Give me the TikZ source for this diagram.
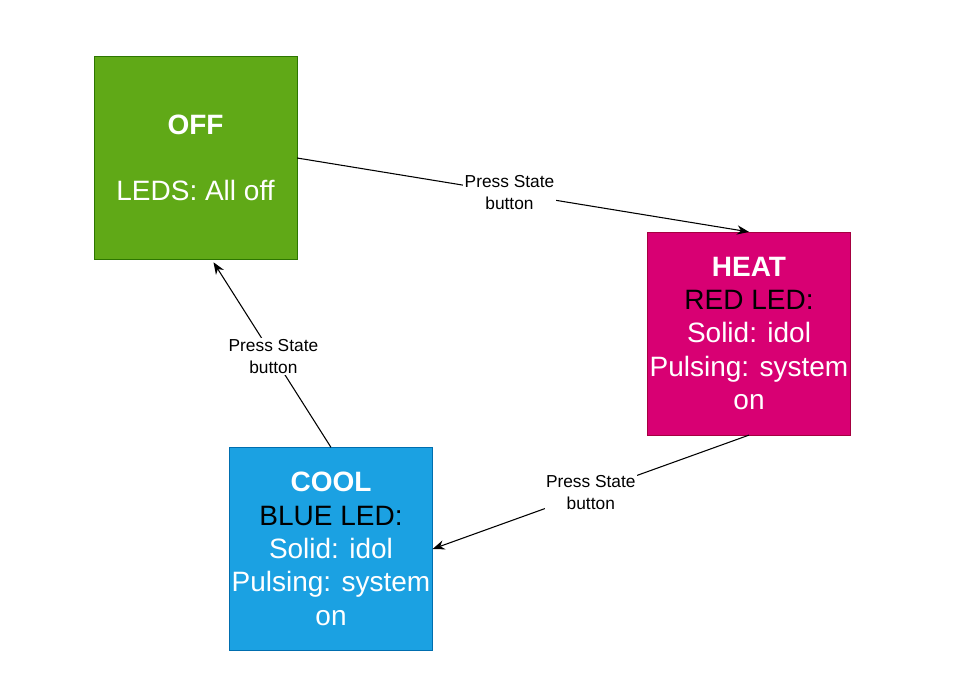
\documentclass[tikz,border=0pt]{standalone}
\usepackage{fontspec}
\setmainfont{Liberation Sans}
\usepackage{xcolor}
\usetikzlibrary{positioning, arrows.meta, calc}
\definecolor{offfill}{HTML}{60A917}
\definecolor{offline}{HTML}{2D7600}
\definecolor{heatfill}{HTML}{D80073}
\definecolor{heatline}{HTML}{A50040}
\definecolor{coolfill}{HTML}{1BA1E2}
\definecolor{coolline}{HTML}{006EAF}

\begin{document}
\begin{tikzpicture}[
    x=0.75pt, y=-0.75pt,
    state/.style={draw, rectangle, minimum width=152pt, minimum height=152pt, inner sep=1pt, align=center, text=white, font=\fontsize{21}{25}\selectfont},
    arr/.style={-{Stealth[length=9pt, width=7pt]}, line width=0.8pt},
    lbl/.style={fill=white, inner sep=1pt, align=center, font=\fontsize{13}{16.5}\selectfont}
]
    \useasboundingbox (0,0) rectangle (962,695);
    \node[state, fill=offfill, draw=offline] (off) at (195.5,158) {\textbf{OFF}\\[25pt]LEDS: All off};
    \node[state, fill=heatfill, draw=heatline] (heat) at (749,333.5) {\textbf{HEAT}\\{\color{black}RED LED:}\\Solid: idol\\Pulsing: system\\on};
    \node[state, fill=coolfill, draw=coolline] (cool) at (331,549) {\textbf{COOL}\\{\color{black}BLUE LED:}\\Solid: idol\\Pulsing: system\\on};

    \draw[arr] (off.east) -- node[lbl, pos=0.47] {Press State\\button} (heat.north);
    \draw[arr] (heat.south) -- node[lbl] {Press State\\button} (cool.east);
    \draw[arr] (cool.north) -- node[lbl, pos=0.49] {Press State\\button} ([xshift=13.5pt, yshift=-2pt]off.south);
\end{tikzpicture}
\end{document}
